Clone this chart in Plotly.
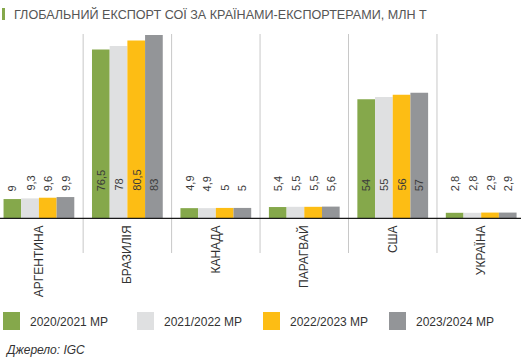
import plotly.graph_objects as go

countries = ["АРГЕНТИНА", "БРАЗИЛІЯ", "КАНАДА", "ПАРАГВАЙ", "США", "УКРАЇНА"]
series_names = ["2020/2021 МР", "2021/2022 МР", "2022/2023 МР", "2023/2024 МР"]
s2020 = [9, 76.5, 4.9, 5.4, 54, 2.8]
s2021 = [9.3, 78, 4.9, 5.5, 55, 2.8]
s2022 = [9.6, 80.5, 5, 5.5, 56, 2.9]
s2023 = [9.9, 83, 5, 5.6, 57, 2.9]
colors = ["#85a84b", "#dfe0e1", "#fdbd14", "#939598"]

series = [s2020, s2021, s2022, s2023]

W, H = 521, 361
T, B = 20, 142
PX_PER_UNIT = 184 / 83.0
plot_h = H - T - B
y_top = plot_h / PX_PER_UNIT

def py2paper(py):
    return (H - B - py) / plot_h

def fmt(v):
    s = ("%g" % v)
    return s.replace(".", ",")

fig = go.Figure()
x_idx = list(range(len(countries)))
for name, vals, col in zip(series_names, series, colors):
    fig.add_trace(go.Bar(x=x_idx, y=vals, name=name, marker=dict(color=col, line=dict(width=0)),
                         showlegend=False, hoverinfo="skip"))

annotations = []
# value labels at fixed height
bar_w = 0.8 / len(series)
label_y = (H - B - 193) / PX_PER_UNIT
for k, vals in enumerate(series):
    off = -0.4 + bar_w * (k + 0.5)
    for i, v in enumerate(vals):
        annotations.append(dict(x=i + off, y=label_y, xref="x", yref="y", text=fmt(v),
                                textangle=-90, showarrow=False, yanchor="bottom", xanchor="center",
                                font=dict(size=11, color="#3a3a3a", family="Liberation Sans, Arial")))

shapes = []
# separators
for i in range(len(countries) - 1):
    shapes.append(dict(type="line", xref="x", yref="paper", x0=i + 0.5, x1=i + 0.5,
                       y0=py2paper(253), y1=py2paper(34), line=dict(color="#c8c8c8", width=1)))
# title marker
shapes.append(dict(type="rect", xref="paper", yref="paper", x0=2 / W, x1=5 / W,
                   y0=py2paper(20), y1=py2paper(8), line=dict(width=0), fillcolor="#85a84b"))
annotations.append(dict(x=12 / W, y=py2paper(14), xref="paper", yref="paper", xanchor="left",
                        yanchor="middle", showarrow=False,
                        text="ГЛОБАЛЬНИЙ ЕКСПОРТ СОЇ ЗА КРАЇНАМИ-ЕКСПОРТЕРАМИ, МЛН Т",
                        font=dict(size=12.6, color="#555555", family="Liberation Sans, Arial")))
# legend
leg_sq = [3, 137, 263, 389]
for k, (name, col) in enumerate(zip(series_names, colors)):
    x0 = leg_sq[k]
    shapes.append(dict(type="rect", xref="paper", yref="paper", x0=x0 / W, x1=(x0 + 17) / W,
                       y0=py2paper(330), y1=py2paper(312), line=dict(width=0), fillcolor=col))
    annotations.append(dict(x=(x0 + 25) / W, y=py2paper(322), xref="paper", yref="paper",
                            xanchor="left", yanchor="middle", showarrow=False, text=name,
                            font=dict(size=12, color="#333333", family="Liberation Sans, Arial")))
annotations.append(dict(x=3 / W, y=py2paper(350), xref="paper", yref="paper", xanchor="left",
                        yanchor="middle", showarrow=False, text="<i>Джерело: IGC</i>",
                        font=dict(size=12, color="#333333", family="Liberation Sans, Arial")))

fig.update_layout(
    width=W, height=H, margin=dict(l=0, r=0, t=T, b=B, pad=0),
    paper_bgcolor="white", plot_bgcolor="white",
    barmode="group", bargap=0.2, bargroupgap=0,
    showlegend=False, hovermode=False,
    shapes=shapes, annotations=annotations,
    xaxis=dict(range=[-0.44, 5.45], tickmode="array", tickvals=x_idx, ticktext=countries,
               tickangle=-90, showgrid=False, zeroline=False, showline=False, ticks="",
               automargin=False, ticklabelstandoff=3,
               tickfont=dict(size=12, color="#333333", family="Liberation Sans, Arial")),
    yaxis=dict(range=[0, y_top], visible=False, showgrid=False, zeroline=False),
)
# baseline
fig.add_shape(type="line", xref="paper", yref="y", x0=0, x1=1, y0=0, y1=0,
              line=dict(color="#1a1a1a", width=2.5), layer="above")

fig.write_html("out.html", config={"displayModeBar": False},
               post_script="document.body.style.margin='0';document.body.style.overflow='hidden';")
